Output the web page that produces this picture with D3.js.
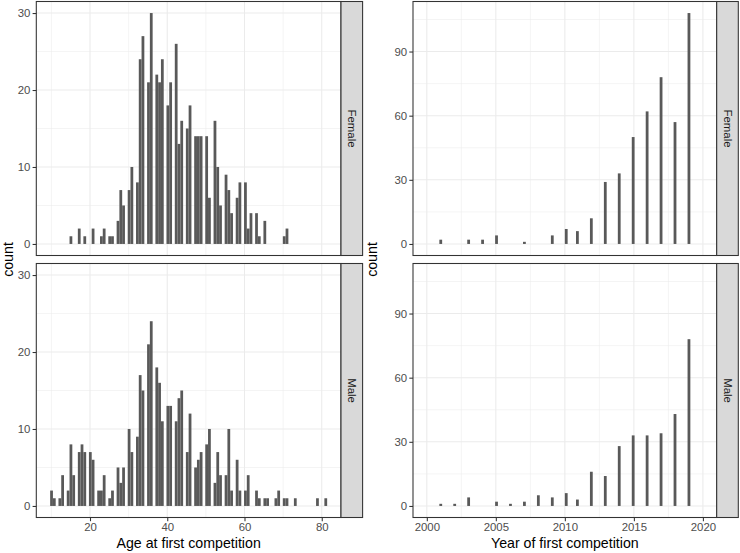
<!DOCTYPE html>
<html>
<head>
<meta charset="utf-8">
<script src="https://cdn.jsdelivr.net/npm/d3@7"></script>
<style>
  body { margin: 0; background: #fff; }
  svg { display: block; font-family: "Liberation Sans", Arial, Helvetica, sans-serif; }
</style>
</head>
<body>
<div id="chart"></div>
<script>
// ---- data ----
var genders = ["Female", "Male"];

// one count per integer age, 10 .. 81
var ages = d3.range(10, 82);
var femaleAgeCounts = [
  0, 0, 0, 0, 0, 1, 0, 2, 0, 1,
  0, 2, 0, 1, 2, 1, 1, 3, 7, 5,
  7, 10, 8, 24, 27, 21, 30, 22, 21, 24,
  18, 21, 26, 13, 16, 15, 18, 14, 14, 14,
  14, 6, 16, 10, 5, 9, 7, 4, 6, 8,
  8, 2, 4, 4, 1, 3, 0, 0, 0, 0,
  1, 2, 0, 0, 0, 0, 0, 0, 0, 0,
  0, 0
];
var maleAgeCounts = [
  2, 1, 1, 4, 2, 8, 4, 7, 8, 7,
  7, 6, 2, 2, 4, 1, 2, 5, 3, 5,
  10, 7, 9, 17, 15, 21, 24, 18, 16, 11,
  13, 13, 11, 14, 15, 7, 12, 5, 6, 7,
  8, 10, 3, 7, 4, 4, 10, 2, 6, 2,
  2, 4, 0, 2, 1, 1, 1, 0, 1, 2,
  1, 1, 0, 1, 0, 0, 0, 0, 0, 1,
  0, 1
];

// one count per year, 2001 .. 2019
var years = d3.range(2001, 2020);
var femaleYearCounts = [2, 0, 2, 2, 4, 0, 1, 0, 4, 7, 6, 12, 29, 33, 50, 62, 78, 57, 108];
var maleYearCounts   = [1, 1, 4, 0, 2, 1, 2, 5, 4, 6, 3, 16, 14, 28, 33, 33, 34, 43, 78];

var ageTicks = [20, 40, 60, 80];
var ageCountTicks = [0, 10, 20, 30];
var yearTicks = [2000, 2005, 2010, 2015, 2020];
var yearCountTicks = [0, 30, 60, 90];

// ---- layout ----
var layout = {
  width: 740,
  height: 553,
  rows: [1.5, 263.5],
  rowHeight: 254,
  stripWidth: 21.6,
  tick: 3.7
};

var svg = d3.select("#chart")
  .append("svg")
  .attr("width", layout.width)
  .attr("height", layout.height);


FacetHistogram = function(_svg, _config) {
  this.svg = _svg;
  this.config = _config;
  this.initVis();
};

FacetHistogram.prototype.initVis = function() {
  var vis = this;
  var c = vis.config;

  // ggplot2 style breaks: `bins` equal bins, outer ones centred on the range ends
  var binWidth = (c.range[1] - c.range[0]) / (c.bins - 1);
  var boundary = binWidth / 2;
  var origin = boundary + Math.floor((c.range[0] - boundary) / binWidth) * binWidth;
  vis.breaks = d3.range(c.bins + 1).map(function(i) { return origin + i * binWidth; });

  vis.binner = d3.bin()
    .domain([vis.breaks[0], vis.breaks[c.bins]])
    .thresholds(vis.breaks.slice(1, -1));

  vis.facets = c.facets.map(function(f) {
    var obs = [];
    c.values.forEach(function(v, i) {
      for (var n = 0; n < f.counts[i]; n++) obs.push(v);
    });
    return { label: f.label, bins: vis.binner(obs) };
  });

  var yMax = d3.max(vis.facets, function(f) {
    return d3.max(f.bins, function(b) { return b.length; });
  });

  var xDomain = c.xDomain;
  if (!xDomain) {
    var span = vis.breaks[c.bins] - vis.breaks[0];
    xDomain = [vis.breaks[0] - 0.05 * span, vis.breaks[c.bins] + 0.05 * span];
  }

  vis.x = d3.scaleLinear().domain(xDomain).range([c.left, c.right]);
  vis.y = d3.scaleLinear().domain([-0.05 * yMax, 1.05 * yMax]).range([layout.rowHeight, 0]);

  vis.xMinor = minorTicks(c.xTicks, vis.x.domain());
  vis.yMinor = minorTicks(c.yTicks, vis.y.domain());

  vis.facets.forEach(function(f, r) {
    var g = vis.svg.append("g")
      .attr("transform", "translate(0," + layout.rows[r] + ")");

    g.append("rect")
      .attr("x", c.left)
      .attr("y", 0)
      .attr("width", c.right - c.left)
      .attr("height", layout.rowHeight)
      .attr("fill", "#fff");

    //minor grid then major grid
    g.selectAll(".vminor").data(vis.xMinor).enter().append("line")
      .attr("x1", vis.x).attr("x2", vis.x)
      .attr("y1", 0).attr("y2", layout.rowHeight)
      .attr("stroke", "#EBEBEB").attr("stroke-width", 0.55);
    g.selectAll(".hminor").data(vis.yMinor).enter().append("line")
      .attr("x1", c.left).attr("x2", c.right)
      .attr("y1", vis.y).attr("y2", vis.y)
      .attr("stroke", "#EBEBEB").attr("stroke-width", 0.55);
    g.selectAll(".vmajor").data(c.xTicks).enter().append("line")
      .attr("x1", vis.x).attr("x2", vis.x)
      .attr("y1", 0).attr("y2", layout.rowHeight)
      .attr("stroke", "#EBEBEB").attr("stroke-width", 1.07);
    g.selectAll(".hmajor").data(c.yTicks).enter().append("line")
      .attr("x1", c.left).attr("x2", c.right)
      .attr("y1", vis.y).attr("y2", vis.y)
      .attr("stroke", "#EBEBEB").attr("stroke-width", 1.07);

    g.selectAll(".bar")
      .data(f.bins.filter(function(b) { return b.length > 0; }))
      .enter()
      .append("rect")
      .attr("class", "bar")
      .attr("x", function(b) { return vis.x(b.x0); })
      .attr("width", function(b) { return vis.x(b.x1) - vis.x(b.x0); })
      .attr("y", function(b) { return vis.y(b.length); })
      .attr("height", function(b) { return vis.y(0) - vis.y(b.length); })
      .attr("fill", "#595959");

    g.append("rect")
      .attr("x", c.left)
      .attr("y", 0)
      .attr("width", c.right - c.left)
      .attr("height", layout.rowHeight)
      .attr("fill", "none")
      .attr("stroke", "#333333")
      .attr("stroke-width", 1.07);

    // facet strip on the right
    g.append("rect")
      .attr("x", c.right)
      .attr("y", 0)
      .attr("width", layout.stripWidth)
      .attr("height", layout.rowHeight)
      .attr("fill", "#D9D9D9")
      .attr("stroke", "#333333")
      .attr("stroke-width", 1.07);
    g.append("text")
      .attr("transform", "translate(" + (c.right + layout.stripWidth / 2) + "," + (layout.rowHeight / 2) + ") rotate(90)")
      .attr("text-anchor", "middle")
      .attr("dy", "0.35em")
      .attr("font-size", "11.4px")
      .attr("fill", "#1A1A1A")
      .text(f.label);

    var yAxis = d3.axisLeft(vis.y)
      .tickValues(c.yTicks)
      .tickSize(layout.tick)
      .tickPadding(2.2)
      .tickFormat(d3.format("d"));
    styleAxis(g.append("g")
      .attr("transform", "translate(" + c.left + ",0)")
      .call(yAxis));
  });

  // x axis under the bottom row only
  var xAxis = d3.axisBottom(vis.x)
    .tickValues(c.xTicks)
    .tickSize(layout.tick)
    .tickPadding(2)
    .tickFormat(d3.format("d"));
  styleAxis(vis.svg.append("g")
    .attr("transform", "translate(0," + (layout.rows[1] + layout.rowHeight) + ")")
    .call(xAxis));

  vis.svg.append("text")
    .attr("x", (c.left + c.right) / 2)
    .attr("y", 547.5)
    .attr("text-anchor", "middle")
    .attr("font-size", "14.2px")
    .attr("fill", "#000")
    .text(c.xTitle);

  vis.svg.append("text")
    .attr("transform", "translate(" + c.yTitleX + "," + ((layout.rows[0] + layout.rows[1] + layout.rowHeight) / 2) + ") rotate(-90)")
    .attr("text-anchor", "middle")
    .attr("font-size", "14.2px")
    .attr("fill", "#000")
    .text("count");
};


// midpoints between the major ticks, kept inside the domain
function minorTicks(major, domain) {
  var step = major[1] - major[0];
  var out = [major[0] - step / 2];
  major.forEach(function(t) { out.push(t + step / 2); });
  return out.filter(function(t) { return t > domain[0] && t < domain[1]; });
}

function styleAxis(sel) {
  sel.select(".domain").remove();
  sel.selectAll(".tick line").attr("stroke", "#333333").attr("stroke-width", 1.07);
  sel.selectAll(".tick text")
    .attr("fill", "#4D4D4D")
    .attr("font-size", "11.4px")
    .attr("font-family", null);
  sel.attr("font-family", null);
}


var ageChart = new FacetHistogram(svg, {
  values: ages,
  range: [d3.min(ages), d3.max(ages)],
  bins: 100,
  facets: [
    { label: genders[0], counts: femaleAgeCounts },
    { label: genders[1], counts: maleAgeCounts }
  ],
  left: 36.3,
  right: 341,
  xTicks: ageTicks,
  yTicks: ageCountTicks,
  xTitle: "Age at first competition",
  yTitleX: 13
});

var yearChart = new FacetHistogram(svg, {
  values: years,
  range: [2000, 2020],
  bins: 100,
  xDomain: [1999, 2021],
  facets: [
    { label: genders[0], counts: femaleYearCounts },
    { label: genders[1], counts: maleYearCounts }
  ],
  left: 413,
  right: 716.7,
  xTicks: yearTicks,
  yTicks: yearCountTicks,
  xTitle: "Year of first competition",
  yTitleX: 377
});
</script>
</body>
</html>
